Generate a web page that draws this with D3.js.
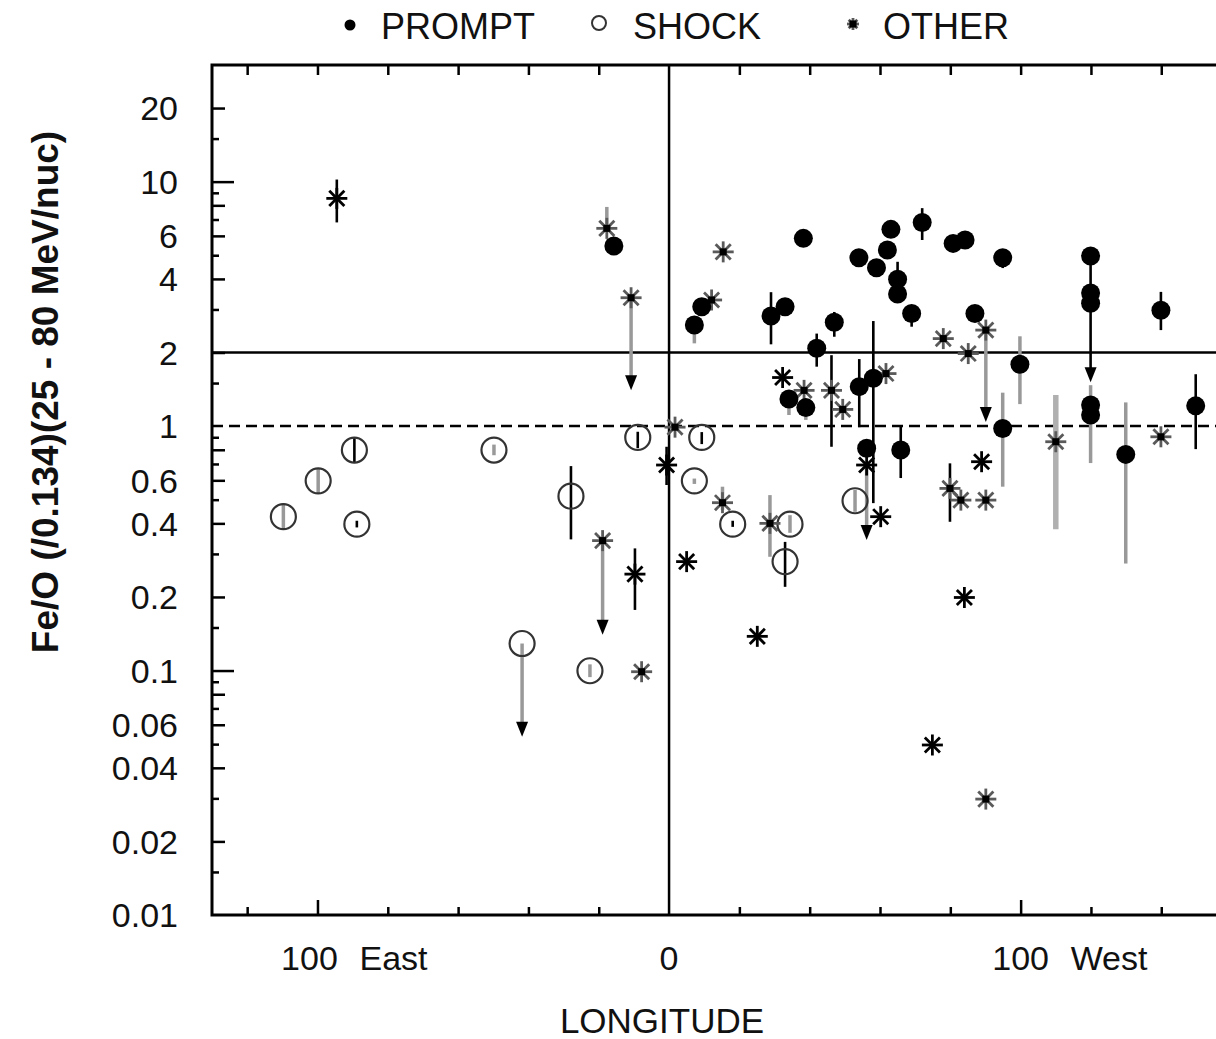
<!DOCTYPE html>
<html><head><meta charset="utf-8">
<script src="https://cdn.jsdelivr.net/npm/d3@7"></script>
<style>
body{margin:0;background:#fff}
svg{display:block;font-family:"Liberation Sans",Arial,Helvetica,sans-serif}
</style>
</head><body>
<svg id="chart" width="1216" height="1039"></svg>
<script>
// ---------------- DATA ----------------
// [longitude, Fe/O, errLow, errHigh, errStyle, arrowTo]
const promptPoints = [
  [-15.7,5.45,null,null,null,null],
  [7.2,2.59,2.18,2.59,'g',null],
  [9.3,3.08,null,null,null,null],
  [29.0,2.82,2.16,3.53,'k',null],
  [33.0,3.08,null,null,null,null],
  [38.2,5.86,null,null,null,null],
  [47.0,2.66,2.32,2.93,'k',null],
  [42.0,2.08,1.75,2.39,'k',null],
  [54.0,4.88,null,null,null,null],
  [59.0,4.44,null,null,null,null],
  [62.1,5.25,null,null,null,null],
  [63.1,6.38,null,null,null,null],
  [65.0,3.99,3.47,4.70,'k',null],
  [65.0,3.47,null,null,null,null],
  [69.0,2.89,2.55,2.89,'k',null],
  [72.0,6.81,5.77,7.79,'k',null],
  [80.8,5.59,null,null,null,null],
  [84.2,5.77,null,null,null,null],
  [94.9,4.88,4.43,4.88,'k',null],
  [87.0,2.89,null,null,null,null],
  [119.9,4.96,3.50,4.96,'k',null],
  [119.9,3.50,null,null,null,null],
  [119.9,3.18,null,null,'k',1.51],
  [119.9,1.22,0.706,1.47,'g',null],
  [119.9,1.11,null,null,null,null],
  [139.9,2.98,2.47,3.54,'k',null],
  [99.8,1.79,1.23,2.33,'g',null],
  [94.9,0.978,0.565,1.37,'g',null],
  [129.9,0.766,0.274,1.25,'g',null],
  [149.8,1.21,0.805,1.63,'k',null],
  [65.9,0.798,0.613,1.0,'k',null],
  [34.1,1.29,1.11,1.29,'g',null],
  [38.9,1.19,1.06,1.19,'g',null],
  [54.1,1.45,0.99,1.88,'k',null],
  [58.1,1.57,0.484,2.69,'k',null],
  [56.2,0.811,null,null,null,null]
];
const shockPoints = [
  [-109.7,0.426,0.376,0.484,'g',null],
  [-99.8,0.597,0.532,0.673,'g',null],
  [-89.5,0.798,0.706,0.893,'k',null],
  [-88.8,0.397,0.385,0.41,'k',null],
  [-49.8,0.798,0.76,0.84,'g',null],
  [-27.9,0.517,0.344,0.686,'k',null],
  [-41.8,0.129,null,null,'g',0.0536],
  [-22.5,0.0998,0.094,0.106,'g',null],
  [-8.9,0.899,0.813,0.948,'k',null],
  [9.3,0.899,0.844,0.945,'k',null],
  [7.2,0.597,0.58,0.61,'g',null],
  [18.1,0.397,0.387,0.41,'k',null],
  [34.4,0.397,0.366,0.432,'g',null],
  [33.0,0.279,0.220,0.336,'k',null],
  [52.9,0.495,0.446,0.548,'g',null]
];
// [longitude, Fe/O, errLow, errHigh, errStyle, arrowTo, markerStyle]
const otherPoints = [
  [-94.5,8.54,6.81,10.2,'k',null,'b'],
  [-17.7,6.44,6.44,7.88,'g',null,'g'],
  [-10.8,3.35,null,null,'g',1.40,'g'],
  [1.7,0.99,null,null,null,null,'g'],
  [-0.7,0.693,0.574,0.823,'k',null,'b'],
  [-18.9,0.340,null,null,'g',0.140,'g'],
  [-9.7,0.248,0.177,0.316,'k',null,'b'],
  [-7.8,0.0989,null,null,null,null,'g'],
  [5.0,0.279,null,null,null,null,'b'],
  [15.2,0.486,0.454,0.565,'g',null,'g'],
  [15.4,5.16,null,null,null,null,'g'],
  [12.1,3.28,null,null,null,null,'g'],
  [28.7,0.400,0.292,0.522,'g',null,'g'],
  [32.3,1.58,null,null,null,null,'b'],
  [38.4,1.40,null,null,null,null,'g'],
  [46.2,1.40,0.823,1.95,'k',null,'g'],
  [49.4,1.17,null,null,null,null,'g'],
  [61.7,1.64,null,null,null,null,'g'],
  [60.2,0.426,null,null,null,null,'b'],
  [56.2,0.693,null,null,'g',0.342,'b'],
  [25.1,0.138,null,null,null,null,'b'],
  [84.0,0.199,null,null,null,null,'b'],
  [74.9,0.0496,null,null,null,null,'b'],
  [90.1,0.0298,null,null,null,null,'g'],
  [78.0,2.28,null,null,null,null,'g'],
  [85.1,1.98,null,null,null,null,'g'],
  [90.1,2.47,null,null,'g',1.04,'g'],
  [88.9,0.715,null,null,null,null,'b'],
  [79.9,0.556,0.406,0.704,'k',null,'g'],
  [83.0,0.498,null,null,null,null,'g'],
  [90.1,0.498,null,null,null,null,'g'],
  [110.0,0.863,0.378,1.34,'G',null,'g'],
  [139.9,0.904,null,null,null,null,'g']
];
const xDomain = [-130, 155];
const yDomain = [0.01, 30];
const xMinorTicks = [-120,-80,-60,-40,-20,20,40,60,80,120,140];
const xMajorTicks = [-100,100];
const xTickLabels = [[-100,"100","East"],[0,"0",""],[100,"100","West"]];
const yLabelTicks = [20,10,6,4,2,1,0.6,0.4,0.2,0.1,0.06,0.04,0.02,0.01];
const yLabelText = ["20","10","6","4","2","1","0.6","0.4","0.2","0.1","0.06","0.04","0.02","0.01"];
const yLongTicks = [0.1,10];
const yMedTicks = [0.02,0.04,0.06,0.08,0.2,0.4,0.6,0.8,2,4,6,8,20];
const yShortTicks = [0.015,0.03,0.05,0.07,0.09,0.15,0.3,0.5,0.7,0.9,1.5,3,5,7,9,15];
const legendItems = ["PROMPT","SHOCK","OTHER"];
const solidLevel = 2, dashedLevel = 1;

// ---------------- CHART ----------------
const L = 212, R = 1214, T = 65, B = 915;
const svg = d3.select("#chart");
const x = d3.scaleLinear().domain(xDomain).range([L, R]);
const y = d3.scaleLog().domain(yDomain).range([B, T]);

// reference lines
svg.append("line").attr("x1", L).attr("x2", 1216).attr("y1", y(solidLevel)).attr("y2", y(solidLevel))
  .attr("stroke", "#000").attr("stroke-width", 2.5);
svg.append("line").attr("x1", L).attr("x2", 1216).attr("y1", y(dashedLevel)).attr("y2", y(dashedLevel))
  .attr("stroke", "#000").attr("stroke-width", 2.5).attr("stroke-dasharray", "11,6");
svg.append("line").attr("x1", x(0)).attr("x2", x(0)).attr("y1", T).attr("y2", B)
  .attr("stroke", "#000").attr("stroke-width", 2.5);

// axes ticks
function tickAxis(axis, tr){
  const g = svg.append("g").attr("transform", tr).call(axis);
  g.select(".domain").remove();
  g.selectAll(".tick line").attr("stroke", "#000").attr("stroke-width", 2.5);
  g.selectAll(".tick text").remove();
  return g;
}
tickAxis(d3.axisBottom(x).tickValues(xMinorTicks).tickSize(-8).tickFormat(""), `translate(0,${B})`);
tickAxis(d3.axisBottom(x).tickValues(xMajorTicks).tickSize(-15).tickFormat(""), `translate(0,${B})`);
tickAxis(d3.axisTop(x).tickValues(xMinorTicks.concat(xMajorTicks)).tickSize(-10).tickFormat(""), `translate(0,${T})`);
tickAxis(d3.axisLeft(y).tickValues(yLongTicks).tickSize(-22).tickFormat(""), `translate(${L},0)`);
tickAxis(d3.axisLeft(y).tickValues(yMedTicks).tickSize(-13).tickFormat(""), `translate(${L},0)`);
tickAxis(d3.axisLeft(y).tickValues(yShortTicks).tickSize(-7).tickFormat(""), `translate(${L},0)`);

// frame
svg.append("path").attr("d", `M${R+2},${T}H${L}V${B}H${R+2}`).attr("fill", "none")
  .attr("stroke", "#000").attr("stroke-width", 3);

// y tick labels
svg.append("g").selectAll("text").data(yLabelTicks).join("text")
  .attr("x", 178).attr("y", d => y(d)).attr("dy", "0.36em")
  .attr("text-anchor", "end").attr("font-size", 34).attr("fill", "#111")
  .text((d,i) => yLabelText[i]);

// x tick labels
const xl = svg.append("g");
xTickLabels.forEach(([v, num, word]) => {
  const east = v < 0;
  xl.append("text").attr("x", x(v) - (east ? 8 : 0)).attr("y", 970).attr("text-anchor", "middle")
    .attr("font-size", 34).attr("fill", "#111").text(num);
  if (word) xl.append("text").attr("x", x(v) + (east ? 42 : 50)).attr("y", 970).attr("text-anchor", "start")
    .attr("font-size", 34).attr("fill", "#111").text(word);
});

// axis titles
svg.append("text").attr("x", 662).attr("y", 1033).attr("text-anchor", "middle")
  .attr("font-size", 35).attr("fill", "#111").text("LONGITUDE");
svg.append("text").attr("transform", "translate(58,392) rotate(-90)").attr("text-anchor", "middle")
  .attr("font-size", 37).attr("font-weight", "bold").attr("fill", "#111")
  .text("Fe/O (/0.134)(25 - 80 MeV/nuc)");

// error bars
const errColor = {k: "#000", g: "#999", G: "#b0b0b0"};
const errWidth = {k: 2.6, g: 3.5, G: 5.5};
const allPts = promptPoints.concat(shockPoints).concat(otherPoints);
const eg = svg.append("g");
allPts.filter(d => d[2] != null).forEach(d => {
  eg.append("line").attr("x1", x(d[0])).attr("x2", x(d[0]))
    .attr("y1", y(d[2])).attr("y2", y(d[3]))
    .attr("stroke", errColor[d[4]]).attr("stroke-width", errWidth[d[4]]);
});
allPts.filter(d => d[5] != null).forEach(d => {
  const cx = x(d[0]), tip = y(d[5]);
  eg.append("line").attr("x1", cx).attr("x2", cx).attr("y1", y(d[1])).attr("y2", tip - 8)
    .attr("stroke", errColor[d[4]]).attr("stroke-width", errWidth[d[4]]);
  eg.append("path").attr("d", `M${cx-6},${tip-15}L${cx+6},${tip-15}L${cx},${tip}Z`).attr("fill", "#000");
});

// markers
function asterisk(g, cx, cy, s, style){
  const a = g.append("g").attr("transform", `translate(${cx},${cy})`);
  const col = style === 'b' ? "#000" : "#5a5a5a";
  const dd = s * 0.72;
  [[0,-s,0,s],[-s,0,s,0],[-dd,-dd,dd,dd],[-dd,dd,dd,-dd]].forEach(l => {
    a.append("line").attr("x1", l[0]).attr("y1", l[1]).attr("x2", l[2]).attr("y2", l[3])
      .attr("stroke", col).attr("stroke-width", 2.8);
  });
  if (style !== 'b') a.append("rect").attr("x", -3.5).attr("y", -3.5).attr("width", 7).attr("height", 7).attr("fill", "#000");
}
const mg = svg.append("g");
shockPoints.forEach(d => {
  mg.append("circle").attr("cx", x(d[0])).attr("cy", y(d[1])).attr("r", 12.5)
    .attr("fill", "none").attr("stroke", "#333").attr("stroke-width", 2.2);
});
otherPoints.forEach(d => asterisk(mg, x(d[0]), y(d[1]), 10.5, d[6]));
promptPoints.forEach(d => {
  mg.append("circle").attr("cx", x(d[0])).attr("cy", y(d[1])).attr("r", 9.5).attr("fill", "#000");
});

// legend
const lg = svg.append("g");
lg.append("circle").attr("cx", 350).attr("cy", 25).attr("r", 5.5).attr("fill", "#000");
lg.append("text").attr("x", 381).attr("y", 39).attr("font-size", 36).attr("fill", "#111").text(legendItems[0]);
lg.append("circle").attr("cx", 599).attr("cy", 23).attr("r", 7).attr("fill", "none").attr("stroke", "#333").attr("stroke-width", 2);
lg.append("text").attr("x", 633).attr("y", 39).attr("font-size", 36).attr("fill", "#111").text(legendItems[1]);
asterisk(lg, 853, 24, 6, 'g');
lg.append("text").attr("x", 883).attr("y", 39).attr("font-size", 36).attr("fill", "#111").text(legendItems[2]);
</script>
</body></html>
